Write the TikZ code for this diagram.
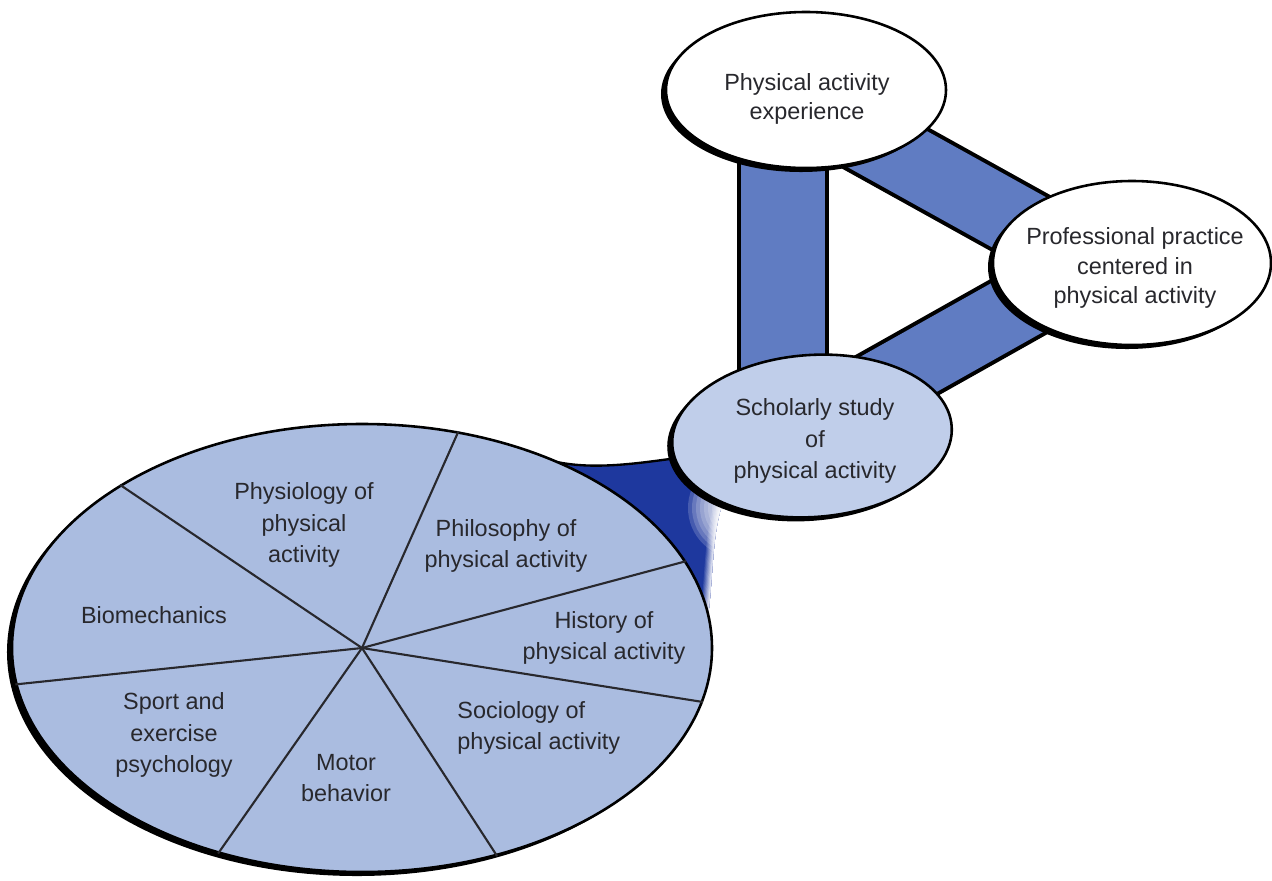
\documentclass[tikz,border=0pt]{standalone}
\usepackage{fontspec}
\setmainfont{Liberation Sans}
\usetikzlibrary{shapes.geometric,shadows,backgrounds,calc}

\definecolor{pieblue}{RGB}{170,188,224}
\definecolor{studyblue}{RGB}{192,206,234}
\definecolor{barblue}{RGB}{96,124,194}
\definecolor{funneldark}{RGB}{30,56,158}
\definecolor{inkgray}{RGB}{40,40,45}

\tikzset{
  bubble/.style={ellipse, draw=black, line width=1.1pt, fill=white, inner sep=0pt,
    drop shadow={shadow xshift=-0.075cm, shadow yshift=-0.06cm, opacity=1, fill=black}},
  lbl/.style={align=center, text=inkgray, inner sep=0pt, font=\fontsize{10}{12.5}\selectfont},
  sector/.style={lbl, font=\fontsize{10}{13.4}\selectfont},
  bar/.style={line width=0.06cm, double=barblue},
}

\begin{document}
\begin{tikzpicture}[x=0.015cm, y=-0.015cm]
\useasboundingbox (0,0) rectangle (1272,880);

% bubbles
\node[bubble, minimum width=4.2cm, minimum height=2.34cm] (pae) at (806,90) {};
\node[bubble, minimum width=4.17cm, minimum height=2.46cm] (ppa) at (1132,263) {};
\node[bubble, fill=studyblue, minimum width=4.2cm, minimum height=2.43cm, rotate=4] (ssp) at (812,436) {};

\node[lbl] (pae-t) at ($(pae.center)+(1,9)$) {Physical activity\\experience};
\node[lbl] (ppa-t) at ($(ppa.center)+(3,5)$) {Professional practice\\centered in\\physical activity};
\node[sector] (ssp-t) at ($(ssp.center)+(3,5)$) {Scholarly study\\of\\physical activity};

% the pie
\node[bubble, fill=pieblue, minimum width=10.5cm, minimum height=6.72cm] (pie) at (362,648) {};
\foreach \ang in {146.6,66.6,15.6,-9.7,-57.9,235,186.6}
  \draw[line width=0.9pt, inkgray] (pie.center) -- (pie.\ang);

\node[sector] (physio) at (304,525) {Physiology of\\physical\\activity};
\node[sector] (philo) at (506,546) {Philosophy of\\physical activity};
\node[sector] (hist) at (604,638) {History of\\physical activity};
\node[sector, align=left, anchor=west] (socio) at (457,728) {Sociology of\\physical activity};
\node[sector] (motor) at (346,778) {Motor\\behavior};
\node[sector] (sport) at (174,735) {Sport and\\exercise\\psychology};
\node[sector] (biomech) at (154,615) {Biomechanics};

\begin{pgfonlayer}{background}
  % bars
  \draw[bar, double distance=1.26cm] ($(pae.center)+(-23,0)$) -- ($(ssp.center)+(-29,0)$);
  \draw[bar, double distance=1.05cm] ($(pae.center)+(0,14)$) -- ($(ppa.center)+(0,22)$);
  \draw[bar, double distance=1.02cm] ($(ssp.center)+(0,-13)$) -- ($(ppa.center)+(0,-20)$);

  % funnel
  \coordinate (fa) at (557,462);
  \coordinate (fb) at (677,458);
  \coordinate (fc) at (722,505);
  \coordinate (fd) at (708,616);
  \coordinate (glow) at (738,508);
  \begin{scope}
    \clip (fa) .. controls (595,470) and (640,463) .. (fb) -- (700,470) -- (fc)
      .. controls (712,535) and (713,580) .. (fd) -- (620,560) -- cycle;
    \fill[funneldark] (500,400) rectangle (800,700);
    \foreach \i in {0,...,7} {
      \pgfmathsetlengthmacro{\ww}{(18-2.2*\i)*0.015cm}
      \pgfmathtruncatemacro{\mix}{100-12*\i}
      \draw[funneldark!\mix!white, line width=\ww] (738,478) -- (fc)
        .. controls (712,535) and (713,580) .. (fd);
    }
    \foreach \i in {0,...,9} {
      \pgfmathsetlengthmacro{\rr}{(50-4*\i)*0.015cm}
      \fill[white, opacity=0.18] (glow) circle [radius=\rr];
    }
  \end{scope}
  \draw[line width=1pt] (fa) .. controls (595,470) and (640,463) .. (fb);
\end{pgfonlayer}

\end{tikzpicture}
\end{document}
